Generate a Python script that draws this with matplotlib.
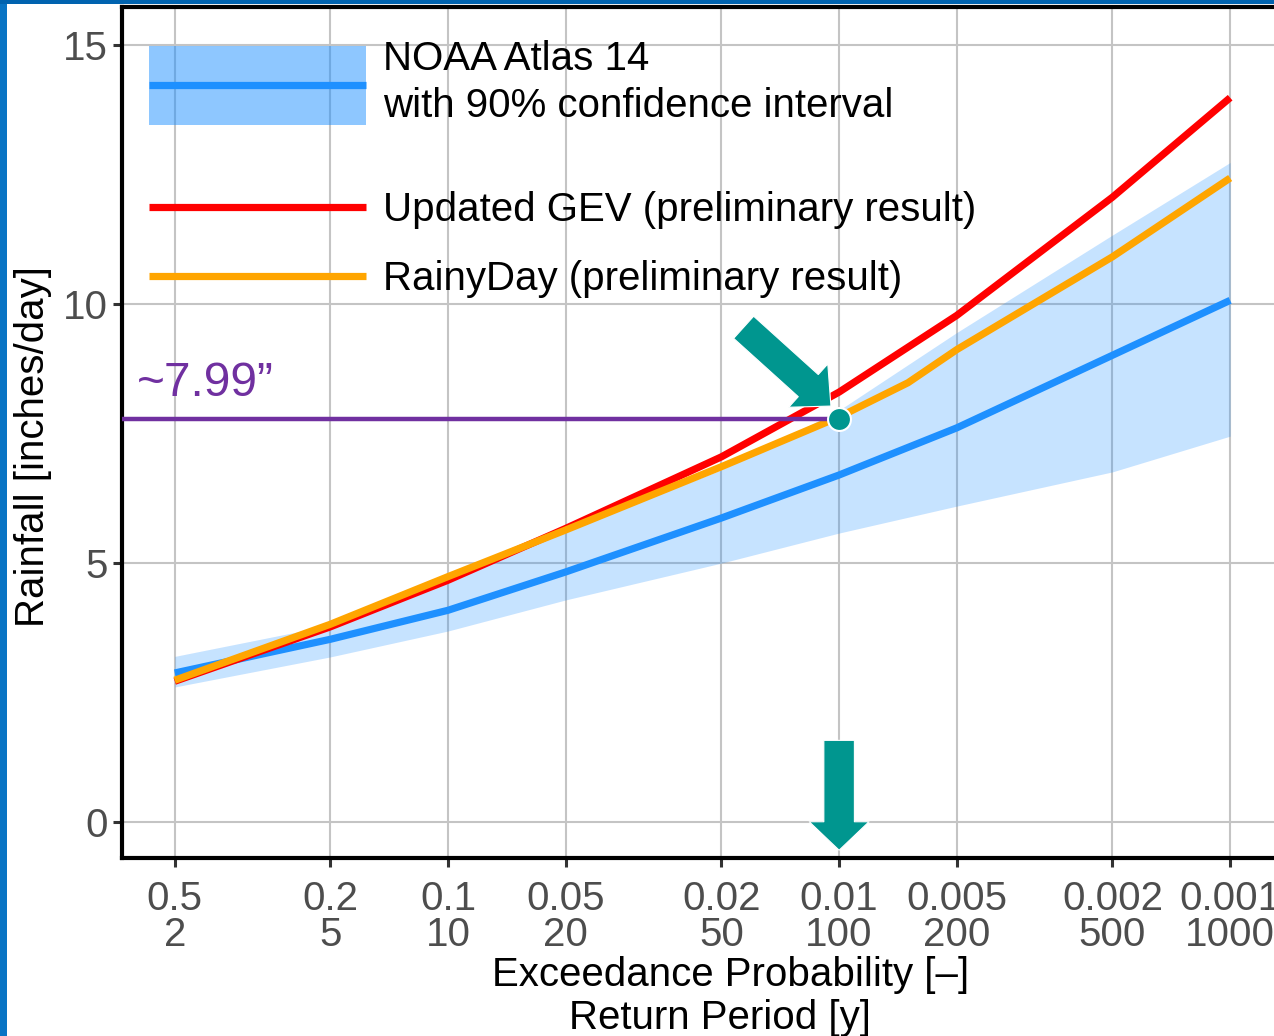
import matplotlib
matplotlib.use("Agg")
import matplotlib.pyplot as plt
from matplotlib.patches import Patch, Rectangle
from matplotlib.lines import Line2D
from matplotlib.legend_handler import HandlerTuple, HandlerLine2D

plt.rcParams['font.family'] = ['Liberation Sans', 'DejaVu Sans']

# ---------------- data ----------------
return_period = [2, 5, 10, 20, 50, 100, 200, 500, 1000]
exceed_prob_labels = ["0.5", "0.2", "0.1", "0.05", "0.02", "0.01", "0.005", "0.002", "0.001"]
return_period_labels = ["2", "5", "10", "20", "50", "100", "200", "500", "1000"]

noaa = [2.88, 3.53, 4.09, 4.83, 5.87, 6.70, 7.61, 9.01, 10.07]
noaa_lower = [2.61, 3.19, 3.69, 4.29, 5.00, 5.58, 6.10, 6.76, 7.45]
noaa_upper = [3.20, 3.80, 4.70, 5.62, 6.80, 7.95, 9.45, 11.33, 12.73]
gev = [2.72, 3.77, 4.67, 5.67, 7.05, 8.30, 9.78, 12.06, 13.98]
rainyday_rp = [2, 5, 10, 20, 50, 100, 150, 200, 500, 1000]
rainyday = [2.74, 3.82, 4.74, 5.64, 6.86, 7.82, 8.48, 9.12, 10.91, 12.43]

highlight_rp = 100
highlight_value = 7.78
highlight_label = "~7.99\u201d"
yticks = [0, 5, 10, 15]

# ---------------- style ----------------
BLUE = "#1E90FF"
RED = "#FF0000"
ORANGE = "#FFA500"
TEAL = "#00968F"
PURPLE = "#7030A0"
GRID = "#C4C4C4"
TICKC = "#4D4D4D"
FS = 29
LW = 5.2


class CenteredLineHandler(HandlerLine2D):
    """Line drawn through the vertical centre of the handle box (like ggplot keys)."""
    def create_artists(self, legend, orig_handle, xdescent, ydescent, width, height,
                       fontsize, trans):
        artists = super().create_artists(legend, orig_handle, xdescent, ydescent, width,
                                         height, fontsize, trans)
        yc = height / 2 - ydescent
        for a in artists:
            if isinstance(a, Line2D):
                a.set_ydata([yc] * len(a.get_ydata()))
        return artists


W, H = 1274, 1036
fig = plt.figure(figsize=(W / 100, H / 100), dpi=100, facecolor="white")
ax_l, ax_r, ax_t, ax_b = 122, 1283, 7, 858
ax = fig.add_axes([ax_l / W, 1 - ax_b / H, (ax_r - ax_l) / W, (ax_b - ax_t) / H])

# slide border strips
fig.patches.append(Rectangle((0, 0), 7 / W, 1, transform=fig.transFigure,
                             facecolor="#0874C4", edgecolor="none", zorder=10))
fig.patches.append(Rectangle((0, 1 - 4 / H), 1, 4 / H, transform=fig.transFigure,
                             facecolor="#0063AF", edgecolor="none", zorder=10))

ax.set_xscale("log")
ax.set_xlim(1.466, 1365)
ax.set_ylim(-0.69, 15.73)

ax.fill_between(return_period, noaa_lower, noaa_upper, color=BLUE, alpha=0.25,
                linewidth=0, zorder=2)
ax.plot(return_period, noaa, color=BLUE, lw=LW, zorder=3, solid_capstyle="butt")
ax.plot(return_period, gev, color=RED, lw=LW, zorder=4, solid_capstyle="butt")
ax.plot(rainyday_rp, rainyday, color=ORANGE, lw=LW, zorder=5, solid_capstyle="butt")

# highlight
ax.plot([ax.get_xlim()[0], highlight_rp], [highlight_value, highlight_value],
        color=PURPLE, lw=3.2, zorder=6, clip_on=False, solid_capstyle="butt")
ax.plot([highlight_rp], [highlight_value], 'o', ms=16.5, mfc=TEAL, mec="white",
        mew=1.5, zorder=8)
ax.text((137 - ax_l) / (ax_r - ax_l), (ax_b - 396) / (ax_b - ax_t), highlight_label,
        transform=ax.transAxes, color=PURPLE, fontsize=34.5, va="baseline", ha="left",
        zorder=9)

ax.annotate("", xy=(95.3, 8.03), xytext=(57.0, 9.55),
            arrowprops=dict(arrowstyle="simple,head_length=22,head_width=42,tail_width=21.5",
                            mutation_scale=1, facecolor=TEAL, edgecolor="white", lw=0.8,
                            shrinkA=0, shrinkB=0), zorder=9)
ax.annotate("", xy=(highlight_rp, -0.54), xytext=(highlight_rp, 1.58),
            arrowprops=dict(arrowstyle="simple,head_length=20.5,head_width=43,tail_width=22",
                            mutation_scale=1, facecolor=TEAL, edgecolor="white", lw=0.8,
                            shrinkA=0, shrinkB=0), zorder=9)

# axes styling
ax.set_xticks(return_period)
ax.set_xticklabels([f"{p}\n{r}" for p, r in zip(exceed_prob_labels, return_period_labels)])
ax.xaxis.set_minor_locator(matplotlib.ticker.NullLocator())
ax.set_yticks(yticks)
ax.set_yticklabels([str(v) for v in yticks])
ax.grid(True, color=GRID, lw=1.5, zorder=0)
ax.set_axisbelow(True)
for s in ["left", "bottom", "top", "right"]:
    ax.spines[s].set_linewidth(3)
    ax.spines[s].set_color("black")
ax.tick_params(axis="both", length=6.5, width=2.2, color="#333333", labelcolor=TICKC,
               labelsize=FS)
ax.tick_params(axis="x", pad=9)
ax.tick_params(axis="y", pad=4)
for t in ax.get_xticklabels():
    t.set_linespacing(0.96)

ax.set_xlabel("Exceedance Probability [\u2013]\nReturn Period [y]  ", fontsize=FS,
              linespacing=1.17)
ax.xaxis.set_label_coords((731 - ax_l) / (ax_r - ax_l), (ax_b - 956) / (ax_b - ax_t))
ax.xaxis.label.set_va("top")
ax.set_ylabel("Rainfall [inches/day]", fontsize=FS)
ax.yaxis.set_label_coords((52 - ax_l) / (ax_r - ax_l), (ax_b - 447) / (ax_b - ax_t))

# legends
h1 = (Patch(facecolor=BLUE, alpha=0.5, edgecolor="none"),
      Line2D([], [], color=BLUE, lw=LW, solid_capstyle="butt"))
leg1 = ax.legend([h1], ["NOAA Atlas 14\nwith 90% confidence interval"],
                 handler_map={tuple: HandlerTuple(ndivide=1), Line2D: CenteredLineHandler()},
                 loc="center left",
                 bbox_to_anchor=((149 - ax_l) / (ax_r - ax_l), (ax_b - 82.5) / (ax_b - ax_t)),
                 frameon=False, fontsize=FS, handlelength=5.38, handleheight=2.64,
                 handletextpad=0.42, borderpad=0, borderaxespad=0)
leg1.get_texts()[0].set_linespacing(1.31)
ax.add_artist(leg1)
h2 = [Line2D([], [], color=RED, lw=LW, solid_capstyle="butt"),
      Line2D([], [], color=ORANGE, lw=LW, solid_capstyle="butt")]
leg2 = ax.legend(h2, ["Updated GEV (preliminary result)", "RainyDay (preliminary result)"],
                 loc="center left",
                 bbox_to_anchor=((149 - ax_l) / (ax_r - ax_l), (ax_b - 244.5) / (ax_b - ax_t)),
                 frameon=False, fontsize=FS, handlelength=5.38, handletextpad=0.42,
                 labelspacing=0.77, borderpad=0, borderaxespad=0)

fig.savefig("out.png", dpi=100, facecolor="white")
